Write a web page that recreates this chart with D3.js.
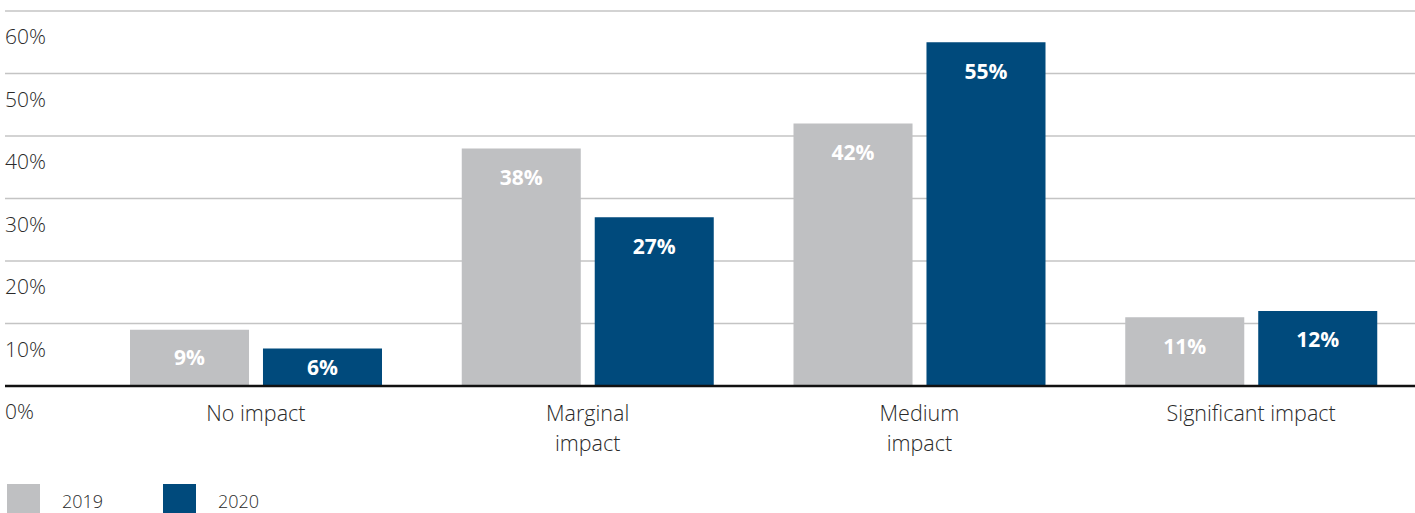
<!DOCTYPE html>
<html>
<head>
<meta charset="utf-8">
<script src="https://cdn.jsdelivr.net/npm/d3@7"></script>
<style>
  html, body { margin: 0; padding: 0; background: #fff; }
  svg { display: block; font-family: "Open Sans", sans-serif; }
</style>
</head>
<body>
<svg id="chart" width="1415" height="513"></svg>
<script>
// chart data
const categories = ['No impact', 'Marginal impact', 'Medium impact', 'Significant impact'];
const categoryLines = [['No impact'], ['Marginal', 'impact'], ['Medium', 'impact'], ['Significant impact']];
const years = ['2019', '2020'];
const values2019 = [9, 38, 42, 11];
const values2020 = [6, 27, 55, 12];
const yTicks = [0, 10, 20, 30, 40, 50, 60];

const colors = { '2019': '#bfc0c2', '2020': '#004a7c' };

const svg = d3.select('#chart');
const width = 1415;

const y = d3.scaleLinear().domain([0, 60]).range([386, 11]);
const x0 = d3.scaleBand().domain(categories).range([90, 1417]);
const x1 = d3.scaleBand().domain(years).range([40, 292]).paddingInner(0.105);

// gridlines (label sits under each line)
const grid = svg.append('g');
grid.selectAll('line')
  .data(yTicks.filter(d => d > 0))
  .enter().append('line')
  .attr('x1', 5).attr('x2', width)
  .attr('y1', d => y(d)).attr('y2', d => y(d))
  .attr('stroke', '#c4c4c4')
  .attr('stroke-width', 1.5);

grid.selectAll('text')
  .data(yTicks)
  .enter().append('text')
  .attr('x', 5)
  .attr('y', d => y(d) + 33)
  .attr('fill', '#2a2a2a')
  .style('font-size', '21px')
  .style('font-weight', 300)
  .text(d => d + '%');

// bars
const rows = categories.map((c, i) => ({ cat: c, vals: [
  { year: '2019', value: values2019[i] },
  { year: '2020', value: values2020[i] }
] }));

const groups = svg.selectAll('g.group')
  .data(rows)
  .enter().append('g')
  .attr('class', 'group')
  .attr('transform', d => 'translate(' + x0(d.cat) + ',0)');

groups.selectAll('rect')
  .data(d => d.vals)
  .enter().append('rect')
  .attr('x', d => x1(d.year))
  .attr('width', x1.bandwidth())
  .attr('y', d => y(d.value))
  .attr('height', d => y(0) - y(d.value))
  .attr('fill', d => colors[d.year]);

groups.selectAll('text.value')
  .data(d => d.vals)
  .enter().append('text')
  .attr('class', 'value')
  .attr('x', d => x1(d.year) + x1.bandwidth() / 2)
  .attr('y', d => y(d.value) + Math.min(29, (y(0) - y(d.value)) / 2))
  .attr('dy', '0.35em')
  .attr('text-anchor', 'middle')
  .attr('fill', '#fff')
  .style('font-size', '21px')
  .style('font-weight', 700)
  .text(d => d.value + '%');

// baseline
svg.append('line')
  .attr('x1', 5).attr('x2', width)
  .attr('y1', y(0)).attr('y2', y(0))
  .attr('stroke', '#111')
  .attr('stroke-width', 2.5);

// category labels
const catLabels = svg.append('g').selectAll('text')
  .data(categories)
  .enter().append('text')
  .attr('x', d => x0(d) + x0.bandwidth() / 2)
  .attr('y', 421)
  .attr('text-anchor', 'middle')
  .attr('fill', '#2a2a2a')
  .style('font-size', '21.5px')
  .style('font-weight', 300);

catLabels.each(function(d, i) {
  d3.select(this).selectAll('tspan')
    .data(categoryLines[i])
    .enter().append('tspan')
    .attr('x', x0(d) + x0.bandwidth() / 2)
    .attr('dy', (l, j) => j === 0 ? 0 : 30)
    .text(l => l);
});

// legend
const legend = svg.append('g').selectAll('g')
  .data(years)
  .enter().append('g')
  .attr('transform', (d, i) => 'translate(' + (7 + i * 156) + ',484)');

legend.append('rect')
  .attr('width', 33).attr('height', 33)
  .attr('fill', d => colors[d]);

legend.append('text')
  .attr('x', 55).attr('y', 24)
  .attr('fill', '#2a2a2a')
  .style('font-size', '18px')
  .style('font-weight', 300)
  .text(d => d);
</script>
</body>
</html>
